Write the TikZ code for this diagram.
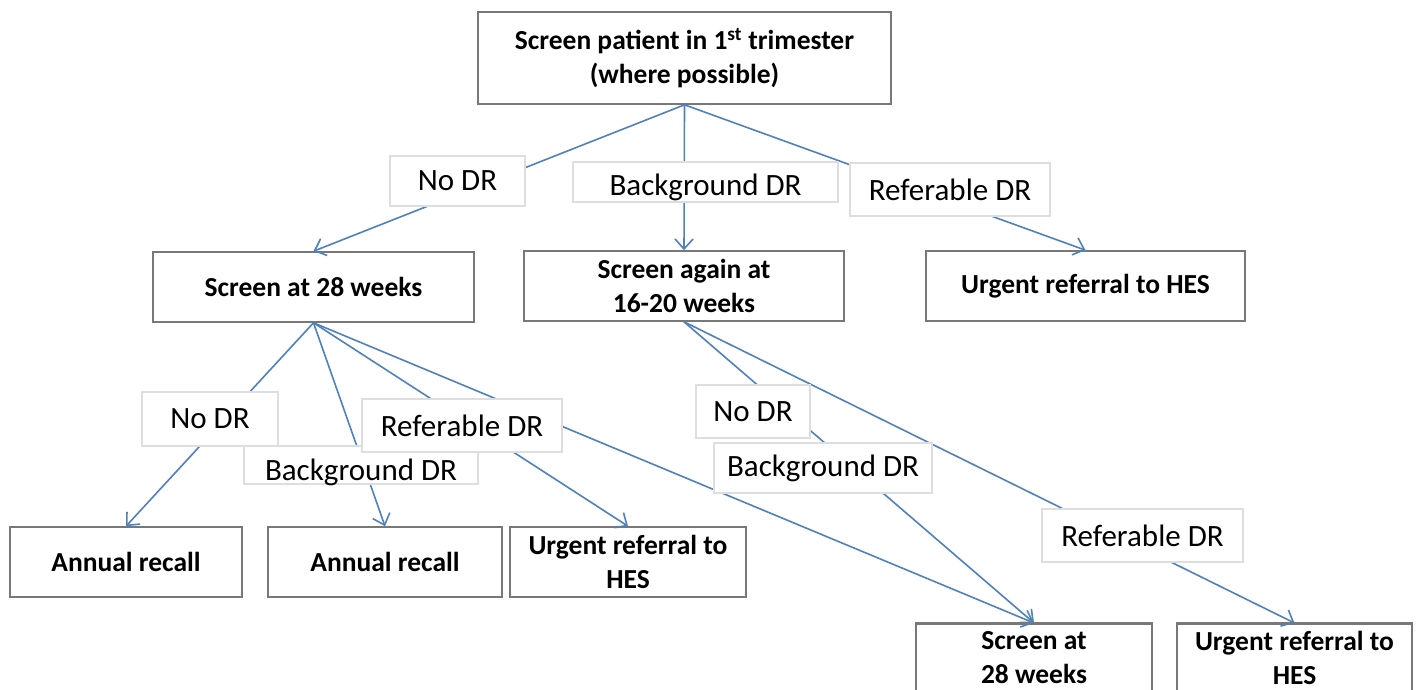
\documentclass[tikz,border=0pt]{standalone}
\usepackage{fontspec}
\setmainfont{Carlito}
\usetikzlibrary{arrows.meta}
\definecolor{conn}{RGB}{79,129,189}
\definecolor{boxline}{RGB}{120,120,120}
\definecolor{lblline}{RGB}{222,222,222}
\begin{document}
\begin{tikzpicture}[x=1pt,y=-1pt,
  box/.style={draw=boxline, line width=1.6pt, fill=white, align=center, inner sep=0pt,
    font=\fontsize{27.5}{34}\selectfont\bfseries},
  lbl/.style={draw=lblline, line width=1.2pt, fill=white, inner sep=0pt},
  lt/.style={font=\fontsize{31}{34}\selectfont, inner sep=0pt},
  ln/.style={draw=conn, line width=1.6pt},
  arr/.style={ln, -{Straight Barb[length=10pt,width=18pt,line width=1.6pt]}}]
\useasboundingbox (0,0) rectangle (1422,689);
\clip (0,0) rectangle (1422,689);
\fill[white] (0,0) rectangle (1422,689);

% boxes
\node[box, minimum width=413, minimum height=92] (top) at (684.5,58)
  {Screen patient in 1\textsuperscript{st} trimester\\(where possible)};
\node[box, minimum width=321, minimum height=70] (s28) at (313.5,287) {Screen at 28 weeks};
\node[box, minimum width=320, minimum height=70] (sag) at (684,286) {Screen again at\\16-20 weeks};
\node[box, minimum width=319, minimum height=70] (urg1) at (1085.5,286) {Urgent referral to HES};
\node[box, minimum width=232, minimum height=70] (ann1) at (126,562) {Annual recall};
\node[box, minimum width=234, minimum height=70] (ann2) at (385,562) {Annual recall};
\node[box, minimum width=236, minimum height=70] (urg2) at (628,562) {Urgent referral to\\HES};
\node[box, minimum width=236, minimum height=68, anchor=north] (s28b) at (1034,623) {Screen at\\28 weeks};
\node[box, minimum width=235, minimum height=68, anchor=north] (urg3) at (1294.5,623) {Urgent referral to\\HES};

% connectors
\draw[arr] (top.south) -- (s28.north);
\draw[arr] (top.south) -- (sag.north);
\draw[arr] (top.south) -- (urg1.north);
\draw[arr] (s28.south) -- (ann1.north);
\draw[arr] (s28.south) -- (ann2.north);
\draw[arr] (s28.south) -- (urg2.north);
\draw[arr] (s28.south) -- (s28b.north);
\draw[arr] (sag.south) -- (s28b.north);
\draw[arr] (sag.south) -- (urg3.north);

% labels (top level)
\node[lbl, minimum width=135, minimum height=50,
  label={[lt]center:No DR}] (nd1) at (457.5,181) {};
\node[lbl, minimum width=265, minimum height=40,
  label={[lt, yshift=-5]center:Background DR}] (bg1) at (705.5,182) {};
\node[lbl, minimum width=200, minimum height=53,
  label={[lt]center:Referable DR}] (rf1) at (950,189.5) {};

% labels (from screen at 28 weeks)
\node[lbl, minimum width=234, minimum height=38,
  label={[lt, yshift=-7]center:Background DR}] (bg2) at (361,465) {};
\node[lbl, minimum width=136, minimum height=54,
  label={[lt]center:No DR}] (nd2) at (210,419) {};
\node[lbl, minimum width=200, minimum height=53,
  label={[lt]center:Referable DR}] (rf2) at (462,425.5) {};

% labels (from screen again)
\node[lbl, minimum width=114, minimum height=53,
  label={[lt]center:No DR}] (nd3) at (753,411.5) {};
\node[lbl, minimum width=218, minimum height=50,
  label={[lt]center:Background DR}] (bg3) at (823,468) {};
\node[lbl, minimum width=201, minimum height=53,
  label={[lt]center:Referable DR}] (rf3) at (1142.5,535.5) {};

% box top edges over the arrow tips
\draw[boxline, line width=1.6pt] (s28b.north west) -- (s28b.north east);
\draw[boxline, line width=1.6pt] (urg3.north west) -- (urg3.north east);
\end{tikzpicture}
\end{document}
